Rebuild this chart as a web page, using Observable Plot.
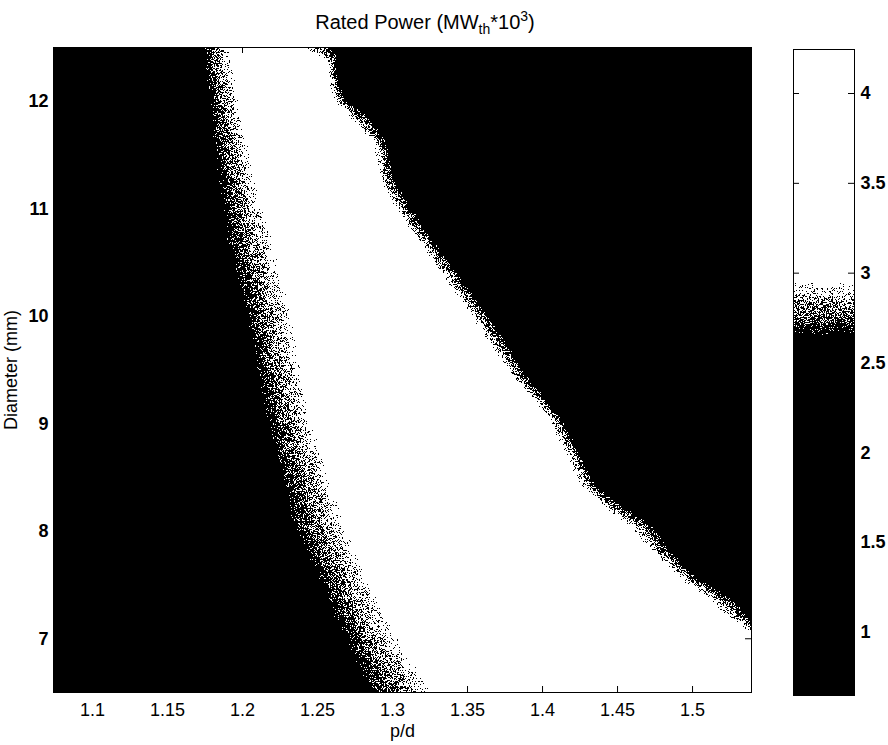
<!DOCTYPE html>
<html><head><meta charset="utf-8">
<script src="https://cdn.jsdelivr.net/npm/d3@7"></script>
<script src="https://cdn.jsdelivr.net/npm/@observablehq/plot@0.6"></script>
<style>
body{margin:0;background:#fff;font-family:"Liberation Sans",Arial,sans-serif;}
#wrap{position:relative;width:888px;height:745px;overflow:hidden;background:#fff}
#main{position:absolute;left:0;top:0}
#cbar{position:absolute;left:740px;top:0}
#title{position:absolute;left:0;width:850px;top:4px;text-align:center;font-size:20px;line-height:24px;z-index:2;white-space:nowrap}
#title sub,#title sup{font-size:14px}
</style></head><body>
<div id="wrap">
<div id="main"></div><div id="cbar"></div>
<div id="title">Rated Power (MW<sub>th</sub>*10<sup>3</sup>)</div>
</div>
<script>
// ---- data ----
const pdTicks = [1.1, 1.15, 1.2, 1.25, 1.3, 1.35, 1.4, 1.45, 1.5];
const diamTicks = [7, 8, 9, 10, 11, 12];
const powerTicks = [1, 1.5, 2, 2.5, 3, 3.5, 4];
const xDomain = [1.074, 1.5393];
const yDomain = [6.5, 12.5];
const powerDomain = [0.649, 4.245];
const lowPower = 2.65;   // below: black
const highPower = 2.95;  // above: white

// left edge of the high-power band (diameter, p/d where black ends, p/d where white begins)
const leftDiam  = [12.5, 12.0, 11.63, 10.98, 10.77, 10.0, 9.02, 8.03, 7.02, 6.5];
const leftOuter = [1.173, 1.1777, 1.1797, 1.1867, 1.188, 1.202, 1.2153, 1.2333, 1.2667, 1.284];
const leftInner = [1.192, 1.1967, 1.2033, 1.2133, 1.2187, 1.232, 1.2453, 1.2687, 1.302, 1.3267];

// right edge of the band (diameter, p/d where white ends, p/d where black begins)
const rightDiam  = [12.5, 12.38, 12.19, 12.01, 11.87, 11.64, 11.26, 10.98, 10.52, 10.0, 9.5, 9.03, 8.41, 8.26, 8.04, 7.79, 7.54, 7.36, 7.17, 7.05, 6.5];
const rightInner = [1.2373, 1.2553, 1.2573, 1.26, 1.2687, 1.2853, 1.292, 1.302, 1.3253, 1.352, 1.3753, 1.404, 1.4253, 1.4367, 1.4567, 1.474, 1.492, 1.51, 1.5253, 1.5393, 1.60];
const rightOuter = [1.262, 1.2633, 1.264, 1.2687, 1.282, 1.2953, 1.302, 1.3133, 1.3367, 1.364, 1.3867, 1.4133, 1.4367, 1.45, 1.474, 1.4873, 1.5053, 1.5273, 1.5393, 1.545, 1.62];

// ---- rendering helpers ----
const lo = d3.scaleLinear().domain(leftDiam).range(leftOuter).clamp(true);
const li = d3.scaleLinear().domain(leftDiam).range(leftInner).clamp(true);
const ri = d3.scaleLinear().domain(rightDiam).range(rightInner).clamp(true);
const ro = d3.scaleLinear().domain(rightDiam).range(rightOuter).clamp(true);

// halftone texture of the printed figure (deterministic threshold map)
function thresh(i, j) {
  let h = (Math.imul(i, 374761393) + Math.imul(j, 668265263)) | 0;
  h = Math.imul(h ^ (h >>> 13), 1274126177);
  h = h ^ (h >>> 16);
  return (h >>> 0) / 4294967296;
}
function halftone(v, i, j) {
  const t = lowPower + (highPower - lowPower) * thresh(i, j);
  return v > t ? highPower : lowPower;
}

const FW = 698, FH = 645;
function field(x, y) {
  const i = Math.floor((x - xDomain[0]) / (xDomain[1] - xDomain[0]) * FW);
  const j = Math.floor((yDomain[1] - y) / (yDomain[1] - yDomain[0]) * FH);
  const a = lo(y), b = li(y), c = ri(y), d = ro(y);
  const tL = Math.max(0, Math.min(1, (x - a) / (b - a)));
  const tR = Math.max(0, Math.min(1, (d - x) / (d - c)));
  const level = Math.min(tL, tR);
  return halftone(lowPower + (highPower - lowPower) * level, i, j);
}

const colorOpts = {type: "linear", domain: [lowPower, highPower], range: ["#000", "#fff"], clamp: true};
const font = {fontFamily: "'Liberation Sans', Arial, sans-serif", fontSize: "18px", background: "transparent", color: "#000"};

const main = Plot.plot({
  width: 770, height: 745,
  marginLeft: 53, marginRight: 19, marginTop: 47, marginBottom: 53,
  style: font,
  x: {domain: xDomain},
  y: {domain: yDomain},
  color: colorOpts,
  marks: [
    Plot.raster({fill: field, x1: xDomain[0], x2: xDomain[1], y1: yDomain[0], y2: yDomain[1], imageRendering: "pixelated"}),
    Plot.ruleX(pdTicks, {insetTop: 639, stroke: "#000"}),
    Plot.ruleX(pdTicks, {insetBottom: 639, stroke: "#000"}),
    Plot.ruleY(diamTicks, {insetRight: 692, stroke: "#000"}),
    Plot.ruleY(diamTicks, {insetLeft: 692, stroke: "#000"}),
    Plot.frame({stroke: "#000"}),
    Plot.axisX({ticks: pdTicks, tickSize: 0, tickPadding: 11, tickFormat: d => String(d), label: "p/d", labelArrow: "none", labelAnchor: "center", labelOffset: 44}),
    Plot.axisY({ticks: diamTicks, tickSize: 0, tickPadding: 5, fontWeight: "bold", tickFormat: d => String(d), label: null}),
    Plot.axisY({ticks: [], tickSize: 0, label: "Diameter (mm)", labelArrow: "none", labelAnchor: "center", labelOffset: 49, fontWeight: "normal"})
  ]
});
document.getElementById("main").append(main);

const CW = 61, CH = 646;
function bar(x, y) {
  const i = Math.floor(x * CW);
  const j = Math.floor((powerDomain[1] - y) / (powerDomain[1] - powerDomain[0]) * CH);
  return halftone(y, i + 1000, j);
}
const cb = Plot.plot({
  width: 148, height: 745,
  marginLeft: 53, marginRight: 34, marginTop: 49, marginBottom: 50,
  style: font,
  x: {domain: [0, 1], axis: null},
  y: {domain: powerDomain},
  color: colorOpts,
  marks: [
    Plot.raster({fill: bar, x1: 0, x2: 1, y1: powerDomain[0], y2: powerDomain[1], imageRendering: "pixelated"}),
    Plot.ruleY(powerTicks, {insetRight: 55, stroke: "#000"}),
    Plot.ruleY(powerTicks, {insetLeft: 55, stroke: "#000"}),
    Plot.frame({stroke: "#000"}),
    Plot.axisY({anchor: "right", ticks: powerTicks, tickSize: 0, tickPadding: 6, fontWeight: "bold", tickFormat: d => String(d), label: null})
  ]
});
document.getElementById("cbar").append(cb);
</script></body></html>
